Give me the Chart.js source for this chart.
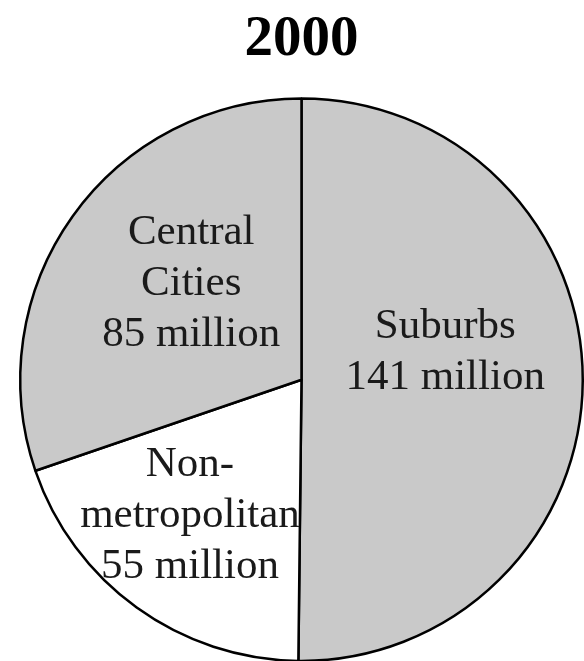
<!DOCTYPE html>
<html>
<head>
<meta charset="utf-8">
<script src="https://cdn.jsdelivr.net/npm/chart.js@4"></script>
<style>
  html, body { margin: 0; padding: 0; background: #fff; overflow: hidden; }
  #wrap { width: 584px; height: 661px; overflow: hidden; }
</style>
</head>
<body>
<div id="wrap"><canvas id="pieChart" width="584" height="670"></canvas></div>
<script>
// population by area type, 2000 (millions), clockwise from 12 o'clock
const categories = ['Suburbs', 'Non-metropolitan', 'Central Cities'];
const population = [141, 55, 85];
const labelLines = [
    ['Suburbs', '141 million'],
    ['Non-', 'metropolitan', '55 million'],
    ['Central', 'Cities', '85 million']
];

// writes the labels inside each slice
const sliceLabels = {
    id: 'sliceLabels',
    afterDatasetsDraw(chart, args, opts) {
        const ctx = chart.ctx;
        const arcs = chart.getDatasetMeta(0).data;
        ctx.save();
        ctx.font = opts.font;
        ctx.fillStyle = opts.color;
        ctx.textAlign = 'center';
        ctx.textBaseline = 'middle';
        arcs.forEach((arc, i) => {
            const p = arc.getProps(['x', 'y', 'startAngle', 'endAngle', 'outerRadius'], true);
            const a = (p.startAngle + p.endAngle) / 2 + opts.angleShift[i] * Math.PI / 180;
            const r = p.outerRadius * opts.radiusFrac[i];
            const cx = p.x + Math.cos(a) * r;
            const cy = p.y + Math.sin(a) * r;
            const lines = labelLines[i];
            const top = cy - (lines.length - 1) * opts.lineHeight / 2;
            lines.forEach((t, j) => ctx.fillText(t, cx, top + j * opts.lineHeight));
        });
        ctx.restore();
    }
};

const config = {
    type: 'pie',
    data: {
        labels: categories,
        datasets: [{
            data: population,
            backgroundColor: ['#c9c9c9', '#ffffff', '#c9c9c9'],
            borderColor: '#000000',
            borderWidth: 2.5
        }]
    },
    options: {
        responsive: false,
        animation: false,
        devicePixelRatio: 1,
        layout: { padding: { left: 19, right: 0, top: 0, bottom: 7 } },
        plugins: {
            legend: { display: false },
            tooltip: { enabled: false },
            title: {
                display: true,
                text: '2000',
                color: '#000',
                font: { family: 'Liberation Serif', size: 57, weight: 'bold', lineHeight: 1.2 },
                padding: { top: 6, bottom: 22 }
            },
            sliceLabels: {
                font: '43px "Liberation Serif"',
                color: '#1a1a1a',
                lineHeight: 51,
                angleShift: [-11, 3.5, 5.5],
                radiusFrac: [0.52, 0.625, 0.52]
            }
        }
    },
    plugins: [sliceLabels]
};

const myChart = new Chart(document.getElementById('pieChart'), config);
</script>
</body>
</html>
